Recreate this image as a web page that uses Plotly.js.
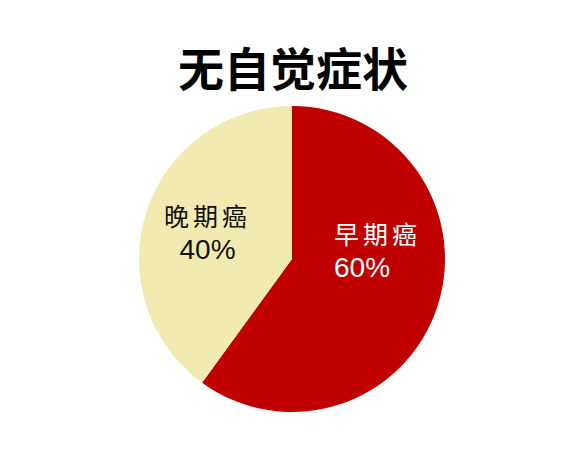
<!DOCTYPE html>
<html>
<head>
<meta charset="utf-8">
<script src="https://cdn.plot.ly/plotly-3.0.1.min.js"></script>
<style>
html,body{margin:0;padding:0;background:#fff;}
#chart{width:584px;height:449px;}
</style>
</head>
<body>
<div id="chart"></div>
<script>
const chartTitle = "无自觉症状";
const labels = ["早期癌", "晚期癌"];
const values = [60, 40];
const colors = ["#C00000", "#F1EBB1"];
const textColors = ["#ffffff", "#111111"];

const total = values.reduce((a, b) => a + b, 0);
const labelPos = [
  {x: 0.5685, y: 0.4454, xanchor: "left", align: "left"},
  {x: 0.3545, y: 0.4855, xanchor: "center", align: "center"}
];
const cjk = '"Noto Sans CJK SC", "Noto Sans", sans-serif';
const latin = "'Liberation Sans', Arial, sans-serif";

const annotations = labels.map((lab, i) => ({
  xref: "paper", yref: "paper",
  x: labelPos[i].x, y: labelPos[i].y,
  xanchor: labelPos[i].xanchor, yanchor: "middle",
  align: labelPos[i].align,
  showarrow: false,
  text: '<span style="letter-spacing:4px">' + lab + '</span><br><span style="font-family:' + latin +
        ';font-size:28px">' + Math.round(values[i] / total * 100) + '%</span>',
  font: {family: cjk, size: 25, color: textColors[i]}
}));

const data = [{
  type: "pie",
  labels: labels,
  values: values,
  sort: false,
  direction: "clockwise",
  rotation: 0,
  marker: {colors: colors, line: {width: 0}},
  textinfo: "none",
  hoverinfo: "label+percent",
  showlegend: false,
  domain: {x: [0.2380, 0.7620], y: [0.0824, 0.7639]}
}];

const layout = {
  width: 584, height: 449,
  margin: {l: 0, r: 0, t: 0, b: 0},
  paper_bgcolor: "#ffffff",
  plot_bgcolor: "#ffffff",
  title: {
    text: chartTitle,
    x: 0.5017, xanchor: "center",
    y: 0.844, yanchor: "middle",
    font: {family: cjk, size: 46, color: "#000000", weight: 700}
  },
  annotations: annotations
};

Plotly.newPlot("chart", data, layout, {staticPlot: true, displayModeBar: false});
</script>
</body>
</html>
